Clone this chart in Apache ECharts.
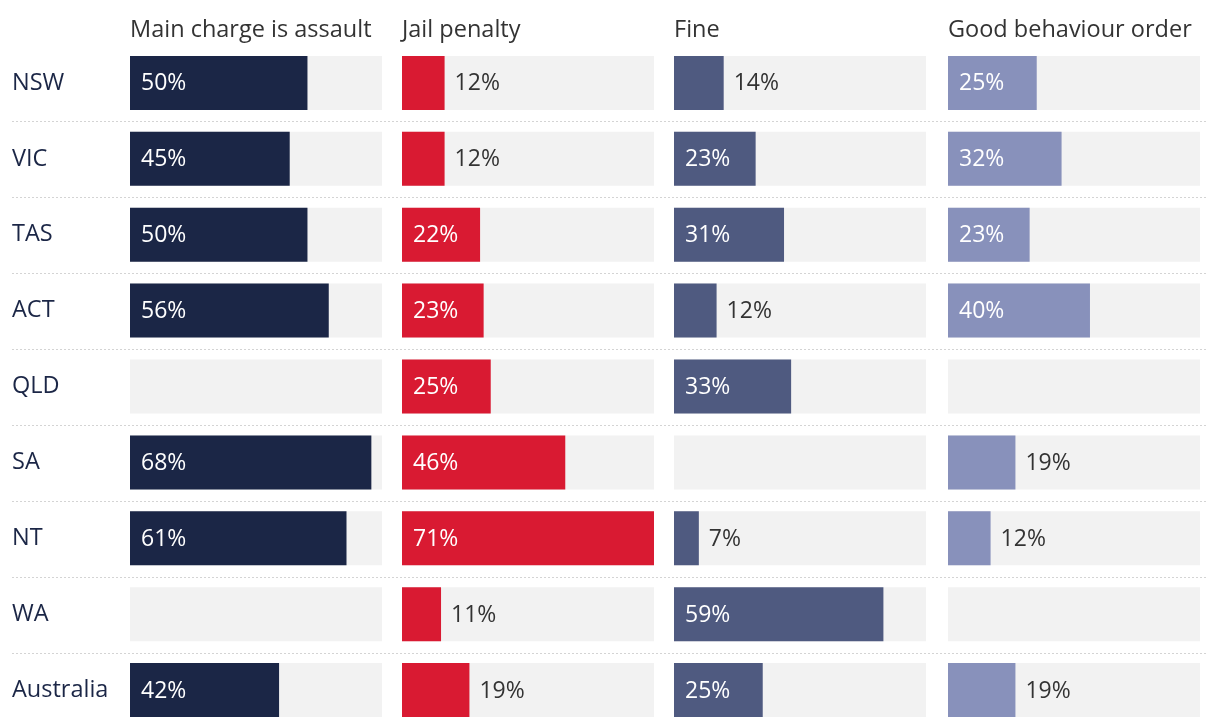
<!DOCTYPE html>
<html>
<head>
<meta charset="utf-8">
<script src="https://cdn.jsdelivr.net/npm/echarts@6/dist/echarts.min.js"></script>
<style>html,body{margin:0;padding:0;background:#fff}#c{width:1220px;height:728px}</style>
</head>
<body>
<div id="c"></div>
<script>
const categories = ['NSW', 'VIC', 'TAS', 'ACT', 'QLD', 'SA', 'NT', 'WA', 'Australia'];
const panelTitles = ['Main charge is assault', 'Jail penalty', 'Fine', 'Good behaviour order'];
const assault = [50, 45, 50, 56, null, 68, 61, null, 42];
const jail = [12, 12, 22, 23, 25, 46, 71, 11, 19];
const fine = [14, 23, 31, 12, 33, null, 7, 59, 25];
const goodBehaviour = [25, 32, 23, 40, null, 19, 12, null, 19];
const scaleMax = 71;

const panels = [assault, jail, fine, goodBehaviour];
const colors = ['#1b2646', '#d91a32', '#4f5a80', '#8891bb'];
const lefts = [130, 402, 674, 948];
const PW = 252, TOP = 45, BAND = 76;
const FONT = 'Open Sans';

const grids = [], xAxes = [], yAxes = [], series = [], titles = [];
panels.forEach((vals, i) => {
  grids.push({left: lefts[i], width: PW, top: TOP, height: BAND * categories.length});
  xAxes.push({type: 'value', gridIndex: i, min: 0, max: scaleMax, show: false});
  yAxes.push({
    type: 'category', gridIndex: i, data: categories, inverse: true,
    axisLine: {show: false}, axisTick: {show: false}, splitLine: {show: false},
    axisLabel: i === 0 ? {show: true, align: 'left', margin: 118, fontSize: 23.5, color: '#1b2646', fontFamily: FONT, padding: [4, 0, 0, 0]} : {show: false}
  });
  titles.push({text: panelTitles[i], left: lefts[i], top: 18, padding: 0,
    textStyle: {fontSize: 23.5, fontWeight: 'normal', color: '#333', fontFamily: FONT}});
  series.push({
    type: 'bar', xAxisIndex: i, yAxisIndex: i, silent: true, barWidth: 54, barGap: '-100%',
    itemStyle: {color: '#f2f2f2'}, data: categories.map(() => scaleMax), z: 1
  });
  series.push({
    type: 'bar', xAxisIndex: i, yAxisIndex: i, barWidth: 54, barGap: '-100%', z: 2,
    itemStyle: {color: colors[i]},
    data: vals.map(v => {
      if (v == null) return '-';
      const inside = v >= 20;
      return {
        value: v,
        label: {
          show: true, formatter: '{c}%', fontSize: 23, fontFamily: FONT,
          position: inside ? 'insideLeft' : 'right',
          distance: inside ? 11 : 10, offset: [0, 1],
          color: inside ? '#fff' : '#333'
        }
      };
    })
  });
});

// separator grid (dotted lines between rows)
grids.push({left: 12, right: 12, top: TOP + BAND, height: BAND * (categories.length - 2)});
xAxes.push({type: 'value', gridIndex: 4, min: 0, max: 1, show: false});
yAxes.push({
  type: 'value', gridIndex: 4, min: 1, max: categories.length - 1, interval: 1, inverse: true,
  axisLine: {show: false}, axisTick: {show: false}, axisLabel: {show: false},
  splitLine: {show: true, lineStyle: {color: '#d4d4d4', width: 1, type: [2, 2]}}
});

const chart = echarts.init(document.getElementById('c'));
chart.setOption({
  animation: false,
  title: titles,
  grid: grids,
  xAxis: xAxes,
  yAxis: yAxes,
  series: series
});
</script>
</body>
</html>
